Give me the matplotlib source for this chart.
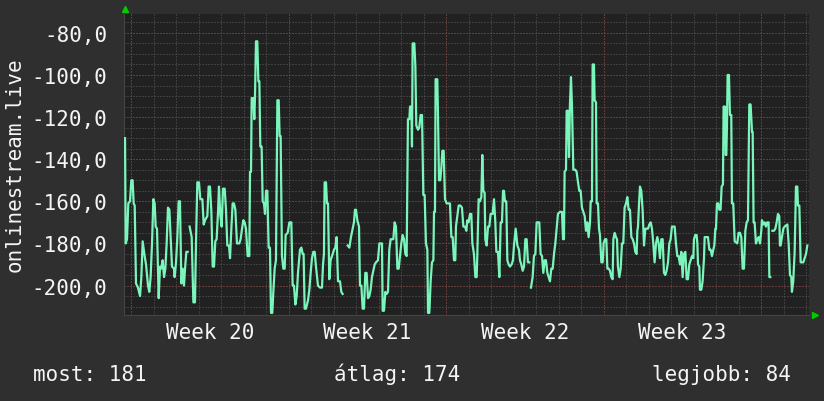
import numpy as np
import matplotlib
matplotlib.use("Agg")
import matplotlib.pyplot as plt

nan = np.nan

# hours since the left edge of the graph; nan = missing sample
hours = [
    1.1, 1.8, 3.2, 4.6, 6.4, 7.8, 9.2, 10.3, 11.4, 12.8,
    14.9, 17.1, 18.5, 19.9, 22.0, 23.5, 25.6, 27.0, 28.4, 29.9,
    31.3, 32.7, 33.8, 35.2, 37.0, 38.4, 39.8, 41.2, 42.7, 44.1,
    45.5, 46.9, 48.4, 49.8, 51.2, 53.3, 54.0, 55.5, 56.9, 58.3,
    59.7, 61.2, 62.6, 64.0, 65.1, 66.5, 67.9, 69.0, 70.0, 72.2,
    74.0, 75.7, 76.8, 78.2, 80.0, 81.4, 83.6, 85.0, 86.4, 88.9,
    90.3, 91.7, 93.2, 94.6, 96.0, 97.4, 98.8, 100.3, 101.3, 102.8,
    104.2, 105.6, 107.4, 108.8, 110.2, 112.0, 113.1, 114.5, 115.9, 117.3,
    118.8, 120.5, 123.0, 124.4, 125.9, 127.3, 128.7, 130.1, 131.9, 133.7,
    134.4, 135.5, 136.2, 138.0, 139.0, 139.7, 140.8, 142.2, 143.3, 144.4,
    145.4, 146.8, 147.9, 149.3, 150.4, 151.5, 152.9, 154.3, 155.7, 156.8,
    158.2, 159.3, 160.7, 162.1, 163.6, 165.0, 166.0, 167.1, 168.5, 170.0,
    171.4, 172.4, 174.6, 176.4, 178.5, 179.9, 181.3, 182.8, 184.2, 185.6,
    187.7, 189.2, 190.6, 191.6, 192.7, 194.1, 196.3, 197.7, 199.1, 200.5,
    202.0, 203.4, 204.8, 206.9, 209.1, 211.2, 212.3, 213.3, 214.0, 215.5,
    216.5, 217.6, 219.0, 220.4, 221.9, 224.0, 225.4, 226.8, 228.3, 230.4,
    231.8, 233.2, 235.0, 238.6, 240.4, 242.1, 243.9, 245.3, 246.4, 247.5,
    248.9, 250.7, 251.7, 253.2, 254.6, 256.0, 257.4, 258.8, 260.3, 261.7,
    263.1, 264.5, 266.0, 267.4, 268.8, 270.9, 272.4, 273.8, 275.2, 275.9,
    277.3, 278.8, 280.2, 281.6, 283.0, 284.4, 285.9, 287.3, 288.7, 290.1,
    291.6, 293.0, 294.4, 295.8, 297.2, 298.7, 300.1, 301.5, 302.9, 304.4,
    305.1, 306.5, 307.2, 307.9, 309.7, 310.8, 311.8, 313.6, 315.0, 316.4,
    317.9, 319.3, 320.7, 322.1, 323.6, 324.3, 325.7, 327.1, 328.5, 330.0,
    330.7, 331.7, 332.4, 334.2, 334.9, 336.0, 337.4, 338.5, 339.6, 341.0,
    342.4, 344.2, 346.3, 347.7, 349.2, 350.6, 352.0, 353.4, 354.1, 355.6,
    357.0, 358.8, 360.5, 362.0, 363.7, 365.2, 366.2, 367.6, 369.1, 370.5,
    371.6, 373.3, 374.8, 376.2, 376.9, 378.3, 379.7, 381.2, 382.2, 383.3,
    384.7, 385.4, 386.8, 388.3, 389.7, 391.1, 393.2, 394.7, 396.1, 397.2,
    398.9, 400.4, 401.8, 403.2, 404.3, 405.3, 406.4, 407.8, 408.9, 410.3,
    411.7, 413.5, 414.9, 416.0, 417.8, 419.6, 421.3, 422.4, 423.8, 425.3,
    426.7, 428.1, 429.5, 430.9, 432.4, 433.3, 434.1, 435.9, 437.3, 438.8,
    440.2, 443.0, 444.4, 445.9, 447.3, 448.7, 450.1, 451.6, 453.0, 454.4,
    455.8, 457.3, 458.7, 460.1, 461.5, 462.9, 465.1, 467.2, 468.3, 469.3,
    470.0, 471.5, 472.2, 473.6, 474.7, 475.7, 476.8, 477.9, 479.3, 481.4,
    482.8, 484.3, 485.7, 487.1, 488.5, 490.0, 491.4, 492.8, 494.2, 495.6,
    497.1, 497.8, 499.2, 499.9, 501.3, 502.0, 503.5, 504.2, 505.6, 506.7,
    507.7, 509.2, 510.6, 511.6, 513.1, 514.5, 515.6, 517.0, 518.4, 519.8,
    521.2, 522.0, 523.4, 524.8, 525.9, 526.9, 528.4, 529.8, 531.2, 532.6,
    534.0, 535.5, 536.9, 538.3, 539.7, 541.2, 542.6, 544.0, 545.4, 546.8,
    547.6, 548.3, 549.3, 550.4, 551.8, 553.2, 554.7, 556.1, 557.5, 558.9,
    560.4, 561.8, 563.2, 564.6, 566.0, 567.5, 568.9, 570.3, 571.7, 573.2,
    574.6, 576.0, 577.4, 578.8, 580.3, 581.7, 583.1, 584.5, 587.4, 588.8,
    590.2, 591.6, 593.1, 594.5, 595.9, 597.3, 598.8, 600.2, 601.6, 603.0,
    604.4, 605.9, 607.3, 608.0, 609.4, 610.8, 611.6, 612.3, 613.7, 614.4,
    615.8, 617.2, 618.7, 619.4, 622.9, 624.4, 625.8, 627.2, 628.6, 629.7,
    630.8, 631.5, 632.5, 634.0, 635.0, 636.4, 637.5, 638.9, 639.6, 641.1,
    641.8, 642.5, 643.2, 643.9, 645.3, 646.4, 647.8, 648.5, 649.9, 651.4,
    654.2, 655.6, 657.1, 658.5, 659.9, 661.3, 662.8, 664.2, 665.6, 667.0,
    668.4, 669.9, 670.6, 671.6, 672.7, 674.1, 675.6, 677.0, 678.4, 679.8,
    680.5, 682.0, 683.4, 684.8, 686.2, 687.6, 688.4, 689.4, 690.5, 691.6,
    693.3, 694.8, 696.2, 697.6, 699.0, 699.7, 700.4, 701.9, 703.3, 704.7,
    707.6, 709.0, 710.4, 711.8, 712.5, 713.9, 715.4, 716.8, 718.2, 718.9,
    720.4, 721.8, 724.6, 726.0, 727.5, 728.9,
]

values = [
    -130, -180, -178, -161, -160, -150, -150, -161, -162, -199,
    -201, -205, -196, -179, -186, -190, -200, -203, -196, -180,
    -159, -161, -172, -173, -206, -191, -192, -188, -196, -192,
    -180, -163, -164, -178, -191, -192, -196, -189, -177, -160,
    -160, -199, -192, -200, -192, -184, -184, nan, -172, -177,
    -208, -208, -180, -151, -151, -159, -159, -171, -169, -167,
    -153, -153, -165, -191, -191, -179, -178, -165, -153, -167,
    -172, -154, -154, -164, -181, -181, -187, -173, -161, -161,
    -164, -180, -180, -178, -173, -169, -170, -173, -186, -186,
    -146, -146, -111, -111, -121, -111, -84, -84, -103, -103,
    -134, -134, -160, -161, -166, -155, -155, -182, -182, -213,
    -213, -203, -192, -188, -112, -112, -129, -129, -186, -192,
    -192, -176, -175, -170, -170, -200, -200, -209, -205, -194,
    -183, -182, -185, -185, -211, -211, -207, -202, -194, -187,
    -184, -184, -191, -200, -201, -201, -190, -185, -151, -151,
    -161, -161, -197, -188, -186, -183, -182, -177, -198, -198,
    -203, -204, nan, -181, -182, -177, -173, -170, -164, -164,
    -169, -172, -200, -200, -211, -211, -194, -194, -206, -205,
    -202, -196, -193, -190, -189, -188, -180, -180, -180, -212,
    -212, -203, -204, -203, -183, -178, -178, -178, -170, -172,
    -192, -192, -186, -180, -176, -178, -185, -186, -121, -121,
    -115, -115, -134, -85, -85, -96, -124, -126, -125, -119,
    -119, -157, -157, -180, -183, -213, -213, -198, -189, -188,
    -165, -165, -102, -102, -118, -150, -150, -144, -136, -136,
    -159, -161, -161, -161, -177, -177, -188, -188, -172, -167,
    -162, -162, -163, -172, -172, -174, -169, -170, -166, -166,
    -180, -185, -196, -196, -185, -159, -160, -158, -138, -155,
    -156, -178, -181, -172, -172, -166, -166, -159, -170, -184,
    -184, -196, -170, -170, -155, -155, -160, -160, -188, -190,
    -191, -190, -188, -181, -173, -181, -183, -188, -190, -193,
    -191, -178, -178, -189, -189, nan, -201, -196, -186, -185,
    -170, -170, -185, -186, -194, -188, -188, -194, -196, -198,
    -192, -192, -185, -180, -173, -166, -165, -165, -178, -178,
    -146, -145, -117, -117, -139, -114, -101, -115, -145, -145,
    -146, -151, -155, -155, -163, -165, -167, -174, -170, -177,
    -170, -160, -160, -95, -95, -112, -113, -161, -161, -173,
    -176, -189, -189, -180, -178, -178, -192, -192, -193, -196,
    -197, -178, -175, -177, -178, -191, -196, -192, -180, -180,
    -163, -161, -158, -164, -164, -177, -178, -180, -184, -185,
    -174, -172, -162, -153, -155, -164, -181, -173, -173, -173,
    -171, -170, -173, -180, -189, -180, -177, -180, -187, -178,
    -178, -194, -195, -193, -189, -180, -178, -172, -172, -180,
    -186, -186, -190, -184, -196, -185, -184, -197, -197, -190,
    -188, -186, -187, -178, -176, -176, -180, -190, -191, -202,
    -202, -198, -187, -177, -177, -183, -183, -186, -183, -181,
    -173, -173, -161, -161, -164, -164, -153, -152, -115, -115,
    -138, -138, -124, -100, -100, -119, -119, -161, -161, -179,
    -180, -175, -175, -177, -192, -192, -174, -170, -169, -114,
    -114, -127, -127, -170, -170, -180, -178, -177, -180, -174,
    -169, -171, -170, -172, -170, -170, -196, -196, nan, -174,
    -174, -173, -170, -166, -167, -181, -181, -177, -173, -172,
    -171, -180, -195, -196, -203, -198, -184, -153, -153, -162,
    -162, -189, -189, -187, -185, -181,
]

week_labels = ['Week 20', 'Week 21', 'Week 22', 'Week 23']
week_start = 7.8          # hour of the first week boundary in the window
span_hours = 730.7
y_ticks = [-80, -100, -120, -140, -160, -180, -200]
y_range = (-214.0, -70.8)
ylabel = 'onlinestream.live'
summary = ['most: 181', 'átlag: 174', 'legjobb: 84']

BG = '#2f2f2f'
PLOT_BG = '#212121'
LINE = '#7af5bb'
MINOR = '#5c5c5c'
MAJOR = '#8a3c3c'
TEXT = '#f4f4f4'
ARROW = '#00cc00'

plt.rcParams['font.family'] = ['DejaVu Sans Mono']

W, H = 824, 402
fig = plt.figure(figsize=(W / 100, H / 100), dpi=100, facecolor=BG)
ax = fig.add_axes([124 / W, 86 / H, 685 / W, 301.5 / H])
ax.set_facecolor(PLOT_BG)
ax.set_xlim(0, span_hours)
ax.set_ylim(*y_range)

dots = (0, (1, 2))
# day / 5-unit grid
for h in np.arange(week_start, span_hours, 24):
    ax.axvline(h, color=MINOR, lw=0.72, ls=dots, zorder=1)
for v in np.arange(-210, -70, 5):
    ax.axhline(v, color=MINOR, lw=0.72, ls=dots, zorder=1)
# week / 20-unit grid
for h in np.arange(week_start, span_hours, 168):
    ax.axvline(h, color=MAJOR, lw=0.72, ls=dots, zorder=2)
for v in y_ticks:
    ax.axhline(v, color=MAJOR, lw=0.72, ls=dots, zorder=2)

ax.plot(hours, values, color=LINE, lw=1.6, zorder=3)

ax.set_yticks(y_ticks)
ax.set_yticklabels([f'{v:.1f}'.replace('.', ',') for v in y_ticks])
mid = [week_start + 84 + 168 * i for i in range(len(week_labels))]
ax.set_xticks(mid)
ax.set_xticklabels(week_labels)
ax.tick_params(length=0, colors=TEXT, labelsize=15)
ax.tick_params(axis='y', pad=12)
ax.tick_params(axis='x', pad=5)
for s in ax.spines.values():
    s.set_visible(False)
ax.spines['bottom'].set_visible(True)
ax.spines['bottom'].set_color('#444444')
ax.spines['left'].set_visible(True)
ax.spines['left'].set_color('#444444')

fig.text(15 / W, 1 - 165 / H, ylabel, rotation=90, ha='center', va='center',
         color=TEXT, fontsize=15)

fig.text(33 / W, 1 - 381.5 / H, summary[0], ha='left', va='baseline',
         color=TEXT, fontsize=15)
fig.text(334 / W, 1 - 381.5 / H, summary[1], ha='left', va='baseline',
         color=TEXT, fontsize=15)
fig.text(791 / W, 1 - 381.5 / H, summary[2], ha='right', va='baseline',
         color=TEXT, fontsize=15)

# little rrdtool style axis arrows
fig.lines.append(plt.Line2D([125 / W], [1 - 10 / H], marker='^', ms=4.5,
                            color=ARROW, transform=fig.transFigure))
fig.lines.append(plt.Line2D([815 / W], [1 - 316 / H], marker='>', ms=4.5,
                            color=ARROW, transform=fig.transFigure))

fig.savefig('out.png', dpi=100, facecolor=BG)
